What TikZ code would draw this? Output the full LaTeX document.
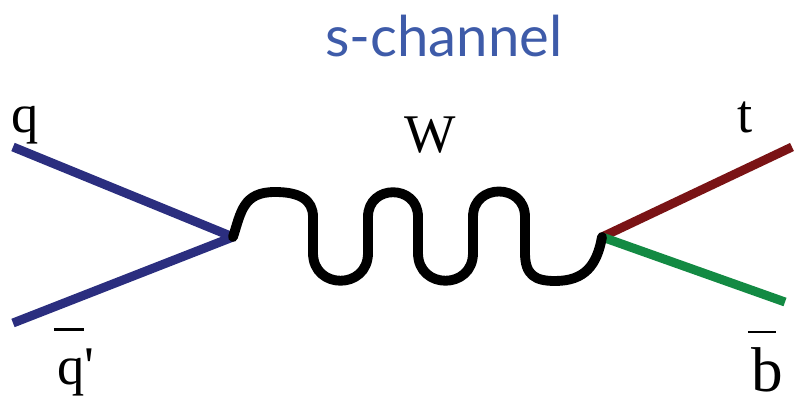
\documentclass[tikz,border=0pt]{standalone}
\usepackage{fontspec}
\setmainfont{Liberation Serif}
\newfontfamily\titlefont{Lato}
\newfontfamily\primefont{Liberation Serif}
\usepackage{xcolor}
\usepackage{tikz}
\usetikzlibrary{positioning}
\definecolor{quarkblue}{HTML}{2B2E7F}
\definecolor{topred}{HTML}{7A1315}
\definecolor{bgreen}{HTML}{138A43}
\definecolor{titleblue}{HTML}{3E5BA9}

\begin{document}
\begin{tikzpicture}[
    x=0.02cm, y=-0.02cm,
    fermion/.style={line width=5.1pt},
    wboson/.style={line width=5.6pt, draw=black, line cap=round},
    lbl/.style={inner sep=0pt, font=\fontsize{31}{36}\selectfont},
    barlbl/.style={inner sep=0pt, font=\fontsize{36}{42}\selectfont}
]
    \useasboundingbox (0,0) rectangle (798,398);

    \node[font=\titlefont\fontsize{32}{38}\selectfont, color=titleblue, anchor=base] (title) at (444,57) {s-channel};

    % vertices and outer ends
    \coordinate (v1) at (233,237);
    \coordinate (v2) at (602,237);
    \coordinate (qin) at (13,147);
    \coordinate (qbin) at (13,323);
    \coordinate (tout) at (792,147);
    \coordinate (bout) at (785,302);

    \draw[fermion, draw=quarkblue] (qin) -- (v1);
    \draw[fermion, draw=quarkblue] (qbin) -- (v1);
    \draw[fermion, draw=topred] (v2) -- (tout);
    \draw[fermion, draw=bgreen] (v2) -- (bout);

    % W propagator
    \draw[wboson] (v1) .. controls (241,212) and (243,192) .. (275,192)
        .. controls (300,192) and (313,200) .. (313,217) -- (313,253)
        .. controls (313,290) and (368,290) .. (368,253) -- (368,217)
        .. controls (368,184) and (418,184) .. (418,217) -- (418,253)
        .. controls (418,290) and (473,290) .. (473,253) -- (473,217)
        .. controls (473,183) and (525,183) .. (525,217) -- (525,253)
        .. controls (525,275) and (535,281) .. (555,281)
        .. controls (585,281) and (597,265) .. (v2);

    % labels
    \node[lbl, anchor=base] (qlab) at (25,133) {q};
    \node[lbl, anchor=base west] (qblab) at (57,385) {\makebox[0pt][l]{\hspace*{-2pt}\raisebox{30.5pt}{\rule{17pt}{1.7pt}}}q{\primefont '}};
    \node[lbl, anchor=base] (wlab) at (430,153) {W};
    \node[lbl, anchor=base] (tlab) at (745,133) {t};
    \node[barlbl, anchor=base west] (bblab) at (751,392) {\makebox[0pt][l]{\hspace*{-2pt}\raisebox{33.3pt}{\rule{16pt}{1.7pt}}}b};
\end{tikzpicture}
\end{document}
